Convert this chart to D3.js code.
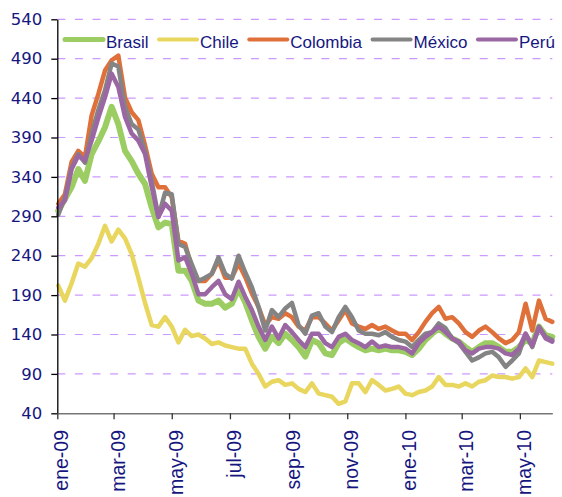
<!DOCTYPE html>
<html>
<head>
<meta charset="utf-8">
<script src="https://cdn.jsdelivr.net/npm/d3@7"></script>
<style>
  body { margin: 0; background: #fff; }
</style>
</head>
<body>
<svg id="chart"></svg>
<script>

const dates = [
  "2009-01-02","2009-01-09","2009-01-16","2009-01-23","2009-01-30","2009-02-06","2009-02-13","2009-02-20","2009-02-27",
  "2009-03-06","2009-03-13","2009-03-20","2009-03-27","2009-04-03","2009-04-10","2009-04-17","2009-04-24",
  "2009-05-01","2009-05-08","2009-05-15","2009-05-22","2009-05-29","2009-06-05","2009-06-12","2009-06-19","2009-06-26",
  "2009-07-03","2009-07-10","2009-07-17","2009-07-24","2009-07-31","2009-08-07","2009-08-14","2009-08-21","2009-08-28",
  "2009-09-04","2009-09-11","2009-09-18","2009-09-25","2009-10-02","2009-10-09","2009-10-16","2009-10-23","2009-10-30",
  "2009-11-06","2009-11-13","2009-11-20","2009-11-27","2009-12-04","2009-12-11","2009-12-18","2009-12-25",
  "2010-01-01","2010-01-08","2010-01-15","2010-01-22","2010-01-29","2010-02-05","2010-02-12","2010-02-19","2010-02-26",
  "2010-03-05","2010-03-12","2010-03-19","2010-03-26","2010-04-02","2010-04-09","2010-04-16","2010-04-23","2010-04-30",
  "2010-05-07","2010-05-14","2010-05-21","2010-05-28","2010-06-04"
]

const brasil = [297, 312, 327, 350, 335, 369, 385, 403, 429, 407, 373, 360, 344, 331, 301, 276, 282, 280, 221, 221,
                208, 183, 179, 179, 183, 174, 179, 198, 181, 158, 137, 122, 137, 129, 141, 133, 124, 112, 133, 129,
                116, 114, 129, 135, 129, 124, 120, 122, 120, 122, 120, 120, 118, 114, 122, 133, 141, 148, 141, 135,
                131, 124, 118, 124, 129, 129, 124, 118, 118, 124, 133, 129, 150, 139, 137]

const chile = [202, 183, 205, 230, 226, 237, 255, 278, 258, 273, 262, 242, 212, 180, 152, 150, 162, 150, 130, 146,
               138, 140, 135, 128, 130, 126, 124, 122, 122, 103, 90, 74, 80, 82, 76, 78, 71, 67, 78, 65,
               63, 61, 52, 55, 78, 78, 67, 82, 76, 69, 71, 74, 65, 63, 67, 69, 74, 86, 76, 76,
               74, 78, 74, 80, 82, 88, 86, 86, 84, 86, 97, 86, 107, 105, 103]

const colombia = [306, 318, 359, 373, 365, 418, 445, 475, 488, 494, 441, 422, 412, 380, 344, 327, 327, 314, 259, 255,
                  225, 208, 208, 217, 234, 212, 212, 230, 213, 192, 175, 152, 162, 160, 167, 162, 150, 145, 162, 162,
                  154, 145, 158, 171, 154, 150, 147, 152, 147, 150, 145, 141, 141, 133, 143, 156, 167, 175, 160, 162,
                  154, 143, 137, 145, 150, 143, 135, 129, 133, 143, 179, 145, 183, 160, 156]

const mexico = [292, 314, 352, 369, 358, 395, 425, 450, 484, 480, 429, 407, 400, 373, 335, 289, 320, 318, 255, 251,
                229, 208, 212, 217, 238, 217, 211, 240, 219, 200, 175, 145, 171, 162, 173, 180, 152, 141, 164, 167,
                150, 143, 162, 175, 162, 145, 141, 141, 139, 143, 137, 133, 131, 124, 133, 141, 143, 154, 148, 135,
                129, 118, 107, 111, 116, 118, 111, 99, 107, 116, 141, 124, 150, 137, 133]

const peru = [301, 310, 350, 367, 361, 386, 415, 441, 471, 454, 416, 395, 386, 369, 327, 289, 306, 297, 234, 238,
              217, 191, 191, 200, 208, 191, 185, 207, 188, 171, 150, 133, 150, 135, 152, 143, 133, 124, 141, 141,
              129, 124, 137, 141, 133, 129, 124, 131, 124, 126, 124, 124, 122, 116, 129, 137, 143, 150, 143, 135,
              131, 120, 116, 122, 124, 124, 122, 116, 114, 122, 141, 126, 149, 135, 131]

const seriesNames = ["Brasil", "Chile", "Colombia", "México", "Perú"]
const seriesValues = [brasil, chile, colombia, mexico, peru]
const seriesColors = ["#9bcd62", "#e8d65e", "#e0703a", "#848484", "#9a67a3"]
const seriesWidths = [6, 4.5, 4.5, 4.5, 4.5]

const yTicks = [40, 90, 140, 190, 240, 290, 340, 390, 440, 490, 540]

const width = 562
const height = 497
const plotLeft = 57.3
const plotRight = 552.3
const plotTop = 19.3
const plotBottom = 413.3
const textColor = "#16167f"

const esLocale = d3.timeFormatLocale({
  dateTime: "%x, %X", date: "%d/%m/%Y", time: "%H:%M:%S", periods: ["AM", "PM"],
  days: ["domingo", "lunes", "martes", "miércoles", "jueves", "viernes", "sábado"],
  shortDays: ["dom", "lun", "mar", "mié", "jue", "vie", "sáb"],
  months: ["enero", "febrero", "marzo", "abril", "mayo", "junio", "julio", "agosto", "septiembre", "octubre", "noviembre", "diciembre"],
  shortMonths: ["ene", "feb", "mar", "abr", "may", "jun", "jul", "ago", "sep", "oct", "nov", "dic"]
})
const fmt = esLocale.utcFormat("%b-%y")

const parse = d3.utcParse("%Y-%m-%d")
const days = dates.map(parse)

const x = d3.scaleUtc()
            .domain([parse("2009-01-01"), parse("2010-06-04")])
            .range([plotLeft, plotRight])

const y = d3.scaleLinear()
            .domain([40, 540])
            .range([plotBottom, plotTop])

const svg = d3.select("#chart")
              .attr("width", width)
              .attr("height", height)

svg.append("rect")
   .attr("width", width)
   .attr("height", height)
   .attr("fill", "#fff")

// dashed gridlines
svg.append("g")
   .selectAll("line")
   .data(yTicks.slice(1))
   .enter()
   .append("line")
   .attr("x1", plotLeft)
   .attr("x2", plotRight)
   .attr("y1", d => y(d))
   .attr("y2", d => y(d))
   .attr("stroke", "#cc99ff")
   .attr("stroke-width", 1.2)
   .attr("stroke-dasharray", "8,9.6")

const line = d3.line()
               .x((d, i) => x(days[i]))
               .y(d => y(d))

svg.append("g")
   .selectAll("path")
   .data(seriesValues)
   .enter()
   .append("path")
   .attr("d", line)
   .attr("fill", "none")
   .attr("stroke", (d, i) => seriesColors[i])
   .attr("stroke-width", (d, i) => seriesWidths[i])
   .attr("stroke-linejoin", "round")
   .attr("stroke-linecap", "round")

const yAxis = svg.append("g")
                 .attr("transform", "translate(" + plotLeft + ",0)")
                 .call(d3.axisLeft(y).tickValues(yTicks).tickSize(6).tickSizeOuter(0).tickPadding(9))

yAxis.select(".domain").attr("stroke", "#000").attr("stroke-width", 1.3)
yAxis.selectAll(".tick line").attr("stroke", "#000").attr("stroke-width", 1.3)
yAxis.selectAll("text")
     .attr("fill", textColor)
     .style("font-family", "'DejaVu Sans', sans-serif")
     .style("font-size", "16.5px")

const xAxis = svg.append("g")
                 .attr("transform", "translate(0," + plotBottom + ")")
                 .call(d3.axisBottom(x).ticks(d3.utcMonth.every(2)).tickFormat(fmt).tickSize(6).tickSizeOuter(0))

xAxis.select(".domain").attr("stroke", "#777").attr("stroke-width", 1.6)
xAxis.selectAll(".tick line").attr("stroke", "#333").attr("stroke-width", 1.3)
xAxis.selectAll("text")
     .attr("transform", "rotate(-90)")
     .attr("text-anchor", "end")
     .attr("x", -16.7)
     .attr("y", 10.5)
     .attr("dy", 0)
     .attr("fill", textColor)
     .style("font-family", "'Liberation Sans', Arial, sans-serif")
     .style("font-size", "19.5px")

// legend
const legend = svg.append("g")
let lx = 63
seriesNames.forEach((name, i) => {
  legend.append("line")
        .attr("x1", lx + 2)
        .attr("x2", lx + 40)
        .attr("y1", 39.5)
        .attr("y2", 39.5)
        .attr("stroke", seriesColors[i])
        .attr("stroke-width", i == 0 ? 5 : 4)
        .attr("stroke-linecap", "round")
  const t = legend.append("text")
                  .attr("x", lx + 43)
                  .attr("y", 47.5)
                  .attr("fill", textColor)
                  .style("font-family", "'Liberation Sans', Arial, sans-serif")
                  .style("font-size", "17px")
                  .text(name)
  lx = lx + 43 + t.node().getComputedTextLength() + 8.5
})

</script>
</body>
</html>
